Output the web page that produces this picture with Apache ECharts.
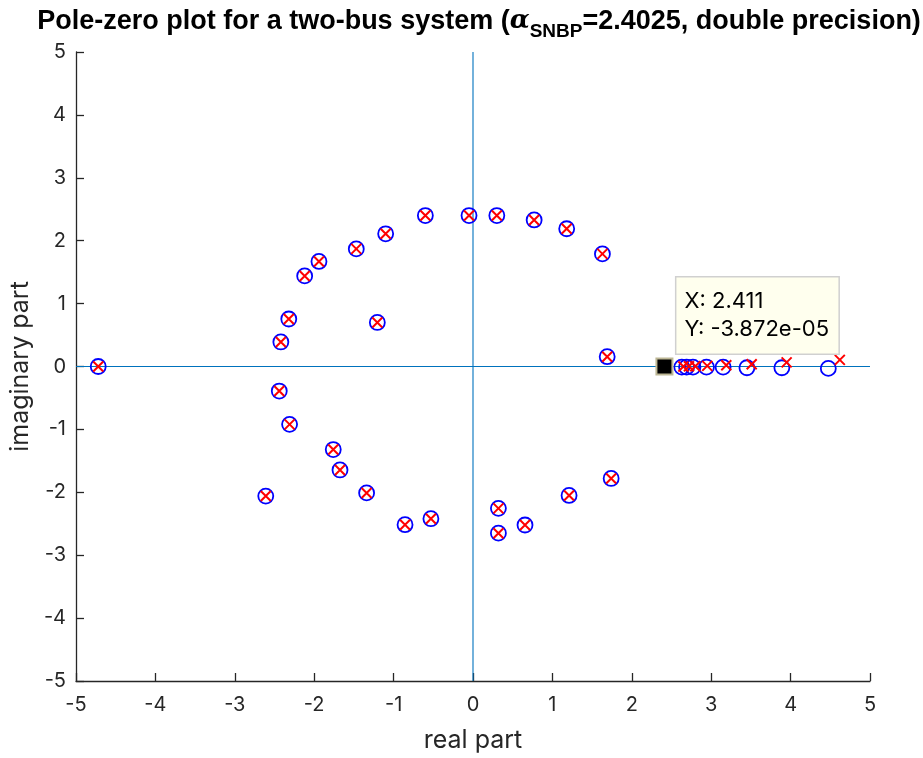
<!DOCTYPE html>
<html>
<head>
<meta charset="utf-8">
<script src="https://cdn.jsdelivr.net/npm/echarts@6/dist/echarts.min.js"></script>
<style>
  html, body { margin: 0; padding: 0; background: #fff; }
  #chart { width: 923px; height: 758px; }
</style>
</head>
<body>
<div id="chart"></div>
<script>
// Zeros (blue circles): real and imaginary parts
const zeroRe = [-4.72, -2.42, -2.32, -2.12, -1.94, -1.47, -1.10, -0.60, -0.05, -1.205,
                -2.44, -2.31, -1.76, -1.675, 0.30, 0.77, 1.18, 1.63, 1.69,
                -2.61, -1.34, -0.856, -0.53, 0.32, 0.32, 0.655, 1.21, 1.74,
                2.411, 2.63, 2.69, 2.77, 2.94, 3.15, 3.45, 3.89, 4.475];
const zeroIm = [0, 0.39, 0.755, 1.44, 1.67, 1.87, 2.11, 2.40, 2.40, 0.70,
                -0.39, -0.92, -1.32, -1.645, 2.40, 2.33, 2.19, 1.79, 0.156,
                -2.06, -2.01, -2.515, -2.42, -2.255, -2.65, -2.52, -2.05, -1.78,
                -0.00004, -0.01, -0.01, -0.01, -0.01, -0.01, -0.02, -0.02, -0.03];

// Poles (red crosses): real and imaginary parts
const poleRe = [-4.72, -2.42, -2.32, -2.12, -1.94, -1.47, -1.10, -0.60, -0.05, -1.205,
                -2.44, -2.31, -1.76, -1.675, 0.30, 0.77, 1.18, 1.63, 1.69,
                -2.61, -1.34, -0.856, -0.53, 0.32, 0.32, 0.655, 1.21, 1.74,
                2.42, 2.65, 2.72, 2.80, 2.95, 3.19, 3.51, 3.95, 4.62];
const poleIm = [0, 0.39, 0.755, 1.44, 1.67, 1.87, 2.11, 2.40, 2.40, 0.70,
                -0.39, -0.92, -1.32, -1.645, 2.40, 2.33, 2.19, 1.79, 0.156,
                -2.06, -2.01, -2.515, -2.42, -2.255, -2.65, -2.52, -2.05, -1.78,
                0, 0, 0.005, 0.005, 0.01, 0.02, 0.035, 0.065, 0.105];

// Data tip location
const tipX = 2.411;
const tipY = -3.872e-05;

// Axis ticks
const xTicks = [-5, -4, -3, -2, -1, 0, 1, 2, 3, 4, 5];
const yTicks = [-5, -4, -3, -2, -1, 0, 1, 2, 3, 4, 5];

function matlabExp(v) {
  const s = v.toExponential(3);            // e.g. -3.872e-5
  return s.replace(/e([+-])(\d)$/, 'e$10$2');
}

const zeros = zeroRe.map((r, i) => [r, zeroIm[i]]);
const poles = poleRe.map((r, i) => [r, poleIm[i]]);

const xMin = xTicks[0], xMax = xTicks[xTicks.length - 1];
const yMin = yTicks[0], yMax = yTicks[yTicks.length - 1];

const FONT = 'Inter, "Liberation Sans", Arial, sans-serif';
const TITLE_FONT = '"Liberation Sans", Arial, Helvetica, sans-serif';
const INK = '#262626';

const chart = echarts.init(document.getElementById('chart'), null, { renderer: 'canvas' });

chart.setOption({
  animation: false,
  backgroundColor: '#ffffff',
  title: {
    text: '{a|Pole-zero plot for a two-bus system (}{al|α}{sub|SNBP}{a|=2.4025, double precision)}',
    left: 474,
    textAlign: 'center',
    top: 3,
    textStyle: {
      rich: {
        a: { fontFamily: TITLE_FONT, fontWeight: 'bold', fontSize: 27, color: '#000', lineHeight: 30, verticalAlign: 'top' },
        al: { fontFamily: '"DejaVu Serif", serif', fontStyle: 'italic', fontSize: 26, color: '#000', lineHeight: 30, verticalAlign: 'top' },
        sub: { fontFamily: TITLE_FONT, fontWeight: 'bold', fontSize: 19, color: '#000', lineHeight: 30, padding: [14, 0, 0, 0], verticalAlign: 'top' }
      }
    }
  },
  grid: { left: 76, right: 53, top: 52, bottom: 77, containLabel: false, outerBoundsMode: 'none' },
  xAxis: {
    type: 'value',
    min: xMin,
    max: xMax,
    interval: 1,
    name: 'real part',
    nameLocation: 'middle',
    nameGap: 47,
    nameTextStyle: { fontFamily: FONT, fontSize: 25, color: INK },
    axisLine: { show: true, onZero: false, lineStyle: { color: INK, width: 1.3 } },
    axisTick: { show: true, inside: true, length: 8, lineStyle: { color: INK, width: 1.3 } },
    axisLabel: { margin: 14, fontFamily: FONT, fontSize: 20, color: INK },
    splitLine: { show: false }
  },
  yAxis: {
    type: 'value',
    min: yMin,
    max: yMax,
    interval: 1,
    name: 'imaginary part',
    nameLocation: 'middle',
    nameGap: 40,
    nameRotate: 90,
    nameTextStyle: { fontFamily: FONT, fontSize: 25, color: INK },
    axisLine: { show: true, onZero: false, lineStyle: { color: INK, width: 1.3 } },
    axisTick: { show: true, inside: true, length: 8, lineStyle: { color: INK, width: 1.3 } },
    axisLabel: { margin: 10, fontFamily: FONT, fontSize: 20, color: INK },
    splitLine: { show: false }
  },
  series: [
    {
      name: 'realAxis',
      type: 'line',
      data: [[xMin, 0], [xMax, 0]],
      symbol: 'none',
      silent: true,
      lineStyle: { color: '#0072BD', width: 1.1 },
      z: 1
    },
    {
      name: 'imagAxis',
      type: 'line',
      data: [[0, yMin], [0, yMax]],
      symbol: 'none',
      silent: true,
      lineStyle: { color: '#0072BD', width: 1.1 },
      z: 1
    },
    {
      name: 'zeros',
      type: 'scatter',
      data: zeros,
      symbol: 'circle',
      symbolSize: 15,
      itemStyle: { color: 'rgba(0,0,0,0)', borderColor: '#0000ff', borderWidth: 1.8, opacity: 1 },
      z: 3
    },
    {
      name: 'poles',
      type: 'scatter',
      data: poles,
      symbol: 'path://M0,0L10,10M10,0L0,10',
      symbolSize: 10,
      itemStyle: { color: 'rgba(0,0,0,0)', borderColor: '#ff0000', borderWidth: 2, opacity: 1 },
      z: 4
    },
    {
      name: 'datatip',
      type: 'scatter',
      data: [[tipX, tipY]],
      symbol: 'rect',
      symbolSize: 16,
      itemStyle: { color: '#000000', borderColor: '#bdb795', borderWidth: 2, opacity: 1 },
      z: 5,
      label: {
        show: true,
        position: [21, -80],
        align: 'left',
        verticalAlign: 'top',
        formatter: () => 'X: ' + tipX + '\nY: ' + matlabExp(tipY),
        fontFamily: FONT,
        fontSize: 22,
        lineHeight: 28,
        color: '#000',
        backgroundColor: '#ffffee',
        borderColor: '#d0d0d0',
        borderWidth: 1.5,
        padding: [10, 6, 10, 8],
        width: 148
      }
    }
  ]
});
</script>
</body>
</html>
